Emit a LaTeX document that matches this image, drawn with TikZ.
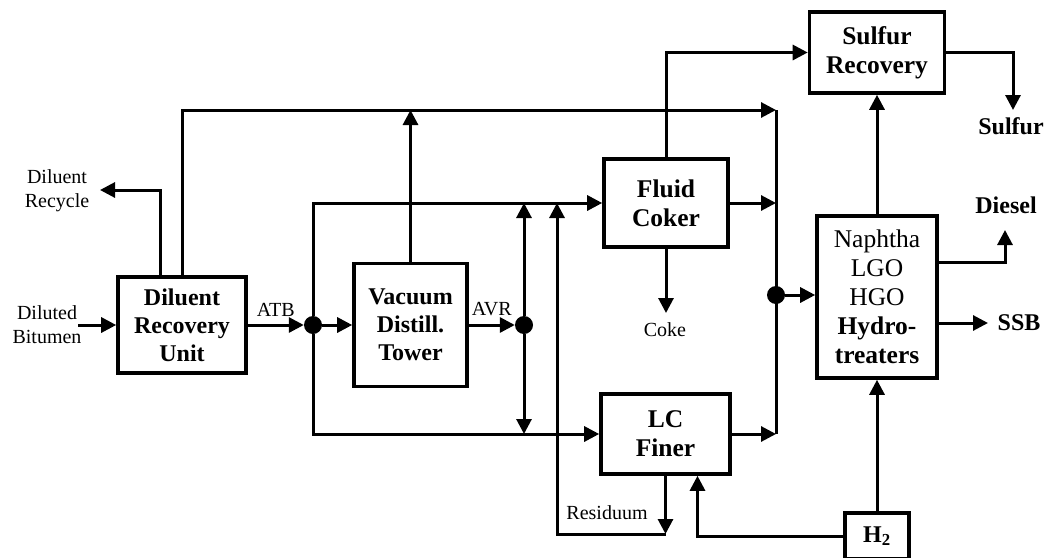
\documentclass[tikz,border=0pt]{standalone}
\usepackage{fontspec}
\setmainfont{Liberation Serif}
\usetikzlibrary{positioning, arrows.meta}

\begin{document}
\begin{tikzpicture}[
        x=1pt, y=-1pt,
        unitbox/.style={draw, line width=3.6pt, align=center, inner sep=2pt, font=\bfseries\fontsize{24}{28}\selectfont},
        bigbox/.style={unitbox, font=\bfseries\fontsize{25.5}{29}\selectfont},
        junction/.style={circle, fill=black, inner sep=0pt, minimum size=18pt},
        pipe/.style={line width=3pt},
        flow/.style={line width=3pt, -{Triangle[length=15pt, width=15pt]}},
        lbl/.style={font=\fontsize{20}{24}\selectfont, align=center},
        product/.style={font=\bfseries\fontsize{24}{28}\selectfont},
    ]
    \useasboundingbox (0,0) rectangle (1049,557);

    % === PROCESS UNITS ===
    \node[unitbox, minimum width=128pt, minimum height=96pt] (dru) at (182, 325) {Diluent\\Recovery\\Unit};
    \node[unitbox, minimum width=113pt, minimum height=123pt] (vdt) at (410.5, 325) {Vacuum\\Distill.\\Tower};
    \node[bigbox, minimum width=124pt, minimum height=88pt] (coker) at (666, 203) {Fluid\\Coker};
    \node[bigbox, minimum width=129pt, minimum height=80pt] (finer) at (665.5, 434) {LC\\Finer};
    \node[bigbox, minimum width=135pt, minimum height=81pt] (sulfur) at (877, 52.5) {Sulfur\\Recovery};
    \node[bigbox, minimum width=120pt, minimum height=162pt, font=\fontsize{25.5}{29}\selectfont] (hydro) at (877, 297)
        {Naphtha\\LGO\\HGO\\\textbf{Hydro-}\\\textbf{treaters}};
    \node[unitbox, minimum width=64pt, minimum height=46pt] (htwo) at (877, 536) {H\textsubscript{2}};

    % Junctions
    \node[junction] (dot1) at (313, 325) {};
    \node[junction] (dot2) at (524, 325) {};
    \node[junction] (dot3) at (776, 295) {};

    % Free ends
    \coordinate (feed) at (78, 325);
    \coordinate (recyc) at (100, 190);
    \coordinate (topend) at (776, 110);
    \coordinate (coke) at (666, 313);
    \coordinate (resid) at (665.5, 534);
    \coordinate (recirc) at (557, 203);
    \coordinate (sulfout) at (1013, 110);
    \coordinate (dieselout) at (1005, 230);
    \coordinate (ssbout) at (988, 323);

    % === DILUENT RECOVERY ===
    \draw[flow] (feed) -- (dru.west);
    \draw[flow] (dru.north) ++(-22,0) |- (recyc);
    \draw[flow] (dru.north) |- (topend);
    \draw[flow] (dru) -- (dot1) node[lbl, midway, above=4pt] {ATB};

    % === VACUUM TOWER ===
    \draw[flow] (dot1) -- (vdt);
    \draw[flow] (vdt.north) -- (vdt.north |- topend);
    \draw[flow] (vdt) -- (dot2) node[lbl, midway, above=4pt] {AVR};
    \draw[flow] (dot1) |- (coker.west);
    \draw[flow] (dot1) |- (finer.west);
    \draw[flow] (dot2) -- (dot2 |- coker.west);
    \draw[flow] (dot2) -- (dot2 |- finer.west);

    % === UPGRADING ===
    \draw[flow] (coker.south) -- (coke);
    \draw[flow] (coker.north) |- (sulfur.west);
    \draw[flow] (finer.south) -- (resid);
    \draw[flow] (resid) -| (recirc);
    \foreach \u in {coker, finer}
        \draw[flow] (\u.east) -- (\u.east -| topend);
    \draw[pipe] (topend) -- (topend |- finer.east);

    % === HYDROTREATING ===
    \draw[flow] (dot3) -- (dot3 -| hydro.west);
    \draw[flow] (hydro.north) -- (sulfur.south);
    \draw[flow] (htwo.north) -- (hydro.south);
    \draw[flow] (htwo.west) -| ([xshift=32pt]finer.south);
    \draw[flow] (sulfur.east) -| (sulfout);
    \draw[flow] (hydro.east) ++(0,-35) -| (dieselout);
    \draw[flow] (hydro.east) ++(0,26) -- (ssbout);

    % Labels
    \node[lbl] (bitlbl) at (47, 325) {Diluted\\Bitumen};
    \node[lbl] (recyclbl) at (57, 191) {Diluent\\Recycle};
    \node[lbl] (cokelbl) at (665, 330) {Coke};
    \node[lbl] (residlbl) at (607, 513) {Residuum};
    \node[product] (sulfurlbl) at (1011, 126) {Sulfur};
    \node[product] (diesellbl) at (1006, 205) {Diesel};
    \node[product] (ssblbl) at (1019, 323) {SSB};

    \end{tikzpicture}
\end{document}
